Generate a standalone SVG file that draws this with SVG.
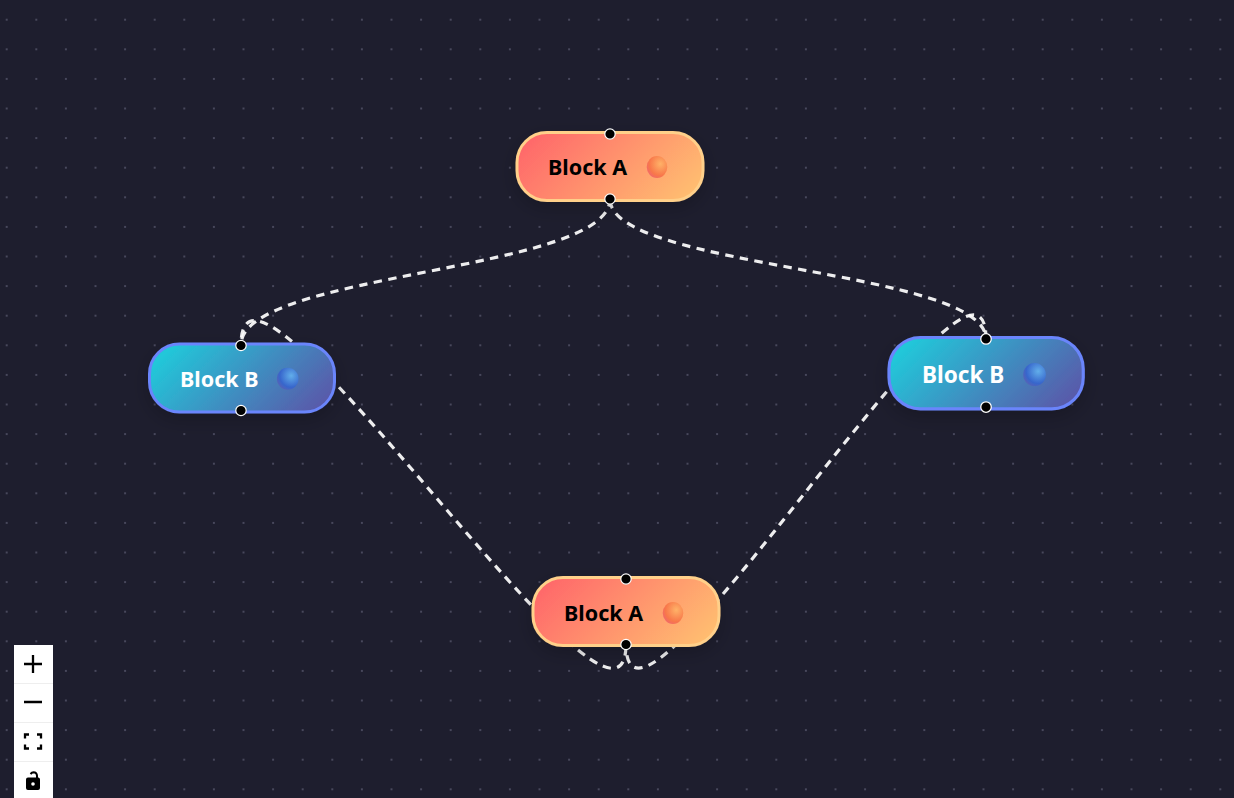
<svg xmlns="http://www.w3.org/2000/svg" width="1234" height="798" viewBox="0 0 1234 798">
<style>
.edge{fill:none;stroke:#fff;stroke-width:3.2;stroke-dasharray:8.4 6.4;opacity:.92}
.lbl{font-family:"Noto Sans","Liberation Sans",sans-serif;font-weight:700;font-size:21.500px}
.a{fill:#000}.b{fill:#fff}
.h{fill:#000;stroke:#fff;stroke-width:1.2}
.nA{fill:url(#gA);stroke:#ffd08a;stroke-width:3;filter:url(#sh)}
.nB{fill:url(#gB);stroke:#6a85fb;stroke-width:3;filter:url(#sh)}
.sep{stroke:#eee;stroke-width:1}
.ic{fill:none;stroke:#000;stroke-width:2.300}
</style>
<defs>
<pattern id="dots" x="-8.1" y="4.9" width="29.6" height="29.6" patternUnits="userSpaceOnUse"><circle cx="14.8" cy="14.8" r="1" fill="#55556a"/></pattern>
<linearGradient id="gA" gradientUnits="userSpaceOnUse" x1="40" y1="-15" x2="155" y2="100"><stop offset="0" stop-color="#ff6b6b"/><stop offset="1" stop-color="#ffc570"/></linearGradient>
<linearGradient id="gB" gradientUnits="userSpaceOnUse" x1="40" y1="-15" x2="155" y2="100"><stop offset="0" stop-color="#22c7d9"/><stop offset="1" stop-color="#5f4ea5"/></linearGradient>
<radialGradient id="iA" cx="0.66" cy="0.36" r="0.75"><stop offset="0" stop-color="#ffb268"/><stop offset="0.7" stop-color="#f8784a"/><stop offset="1" stop-color="#f0666c"/></radialGradient>
<radialGradient id="iB" cx="0.66" cy="0.36" r="0.75"><stop offset="0" stop-color="#62aeea"/><stop offset="0.7" stop-color="#3766cc"/><stop offset="1" stop-color="#5a62b4"/></radialGradient>
<filter id="sh" x="-20%" y="-40%" width="140%" height="190%"><feDropShadow dx="0" dy="6" stdDeviation="9" flood-color="#000" flood-opacity=".2"/></filter>
</defs>
<rect width="1234" height="798" fill="#1e1e2e"/>
<rect width="1234" height="798" fill="url(#dots)"/>
<g id="connectors">
<path class="edge" stroke-dashoffset="0.800" d="M610 199C610 272 241 272 241 345"/>
<path class="edge" stroke-dashoffset="13.600" d="M610 199C610 269 986 269 986 339"/>
<path class="edge" stroke-dashoffset="11.600" d="M626 644C626 794 241 195 241 345"/>
<path class="edge" stroke-dashoffset="3.600" d="M626 644C626 794 986 189 986 339"/>
</g>
<g id="node-a1" transform="translate(517 132.500)">
<rect class="nA" width="186" height="68" rx="30"/>
<text class="lbl a" x="31" y="42">Block A</text>
<ellipse cx="140" cy="34.500" rx="10.300" ry="11" fill="url(#iA)"/>
<circle class="h" cx="93" cy="1.500" r="5.200"/><circle class="h" cx="93" cy="66.500" r="5.200"/>
</g>
<g id="node-b1" transform="translate(149.500 344)">
<rect class="nB" width="185" height="68" rx="30"/>
<text class="lbl b" x="30.500" y="43">Block B</text>
<ellipse cx="138.200" cy="34.800" rx="10.800" ry="11" fill="url(#iB)"/>
<circle class="h" cx="91.500" cy="1.500" r="5.200"/><circle class="h" cx="91.500" cy="66.500" r="5.200"/>
</g>
<g id="node-b2" transform="translate(889 337.500) scale(1.05)">
<rect class="nB" width="185" height="68" rx="30"/>
<text class="lbl b" x="31.400" y="43">Block B</text>
<ellipse cx="138.600" cy="35.300" rx="10.800" ry="11" fill="url(#iB)"/>
<circle class="h" cx="92.400" cy="1.400" r="5"/><circle class="h" cx="92.400" cy="66.200" r="5"/>
</g>
<g id="node-a2" transform="translate(533 577.500)">
<rect class="nA" width="186" height="68" rx="30"/>
<text class="lbl a" x="31" y="43">Block A</text>
<ellipse cx="140" cy="35.500" rx="10.300" ry="11" fill="url(#iA)"/>
<circle class="h" cx="93" cy="1.500" r="5.200"/><circle class="h" cx="93" cy="67" r="5.200"/>
</g>
<g id="controls">
<rect x="14" y="645" width="39" height="153" fill="#fff"/>
<path class="sep" d="M14 683.500H53M14 722.500H53M14 761.500H53"/>
<path class="ic" d="M24 664H42M33 655V673M24 702H42"/>
<path class="ic" d="M25 738.500V734.500H29M37 734.500H41V738.500M25 744.500V748.500H29M37 748.500H41V744.500"/>
<path d="M28 777.500H36V776c0-2-1-2.500-2.500-2.500c-1 0-1.500.3-2.200 1.200l-1.500-1.200c1-1.500 2.300-2.200 3.700-2.200c2.800 0 4.500 1.800 4.500 4.500v1.700h.500a2 2 0 0 1 1.500 2v8.500a2 2 0 0 1-2 2H28a2 2 0 0 1-2-2v-8.500a2 2 0 0 1 2-2z" fill="#000"/>
<circle cx="33" cy="784" r="1.800" fill="#fff"/>
</g>
</svg>
